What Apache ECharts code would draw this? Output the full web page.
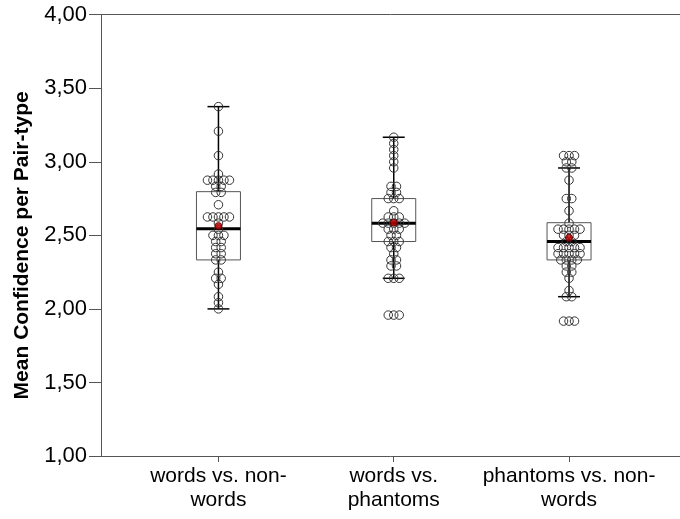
<!DOCTYPE html>
<html>
<head>
<meta charset="utf-8">
<title>Mean Confidence per Pair-type</title>
<script src="https://cdn.jsdelivr.net/npm/echarts@6.0.0/dist/echarts.min.js"></script>
<style>
html, body { margin: 0; padding: 0; background: #fff; }
#chart { width: 680px; height: 519px; }
</style>
</head>
<body>
<div id="chart"></div>
<script>
var categories = ['words vs. non-\nwords', 'words vs.\nphantoms', 'phantoms vs. non-\nwords'];
var yTicks = [1, 1.5, 2, 2.5, 3, 3.5, 4];

// participant means
var wordsNonwords = [3.375, 3.208, 3.042, 2.917, 2.875, 2.875, 2.875, 2.875, 2.875, 2.833, 2.833,
	2.792, 2.792, 2.708, 2.625, 2.625, 2.625, 2.625, 2.625, 2.583, 2.542, 2.5, 2.5, 2.5,
	2.458, 2.458, 2.417, 2.417, 2.375, 2.375, 2.333, 2.333, 2.25, 2.208, 2.208, 2.167,
	2.083, 2.042, 2.0];
var wordsPhantoms = [3.167, 3.125, 3.083, 3.042, 3.0, 2.958, 2.833, 2.833, 2.792, 2.792,
	2.75, 2.75, 2.75, 2.667, 2.625, 2.625, 2.625, 2.583, 2.583, 2.583, 2.583, 2.583,
	2.542, 2.542, 2.542, 2.5, 2.5, 2.458, 2.458, 2.458, 2.417, 2.417, 2.375, 2.333, 2.333,
	2.292, 2.292, 2.208, 2.208, 2.208, 1.958, 1.958, 1.958];
var phantomsNonwords = [3.042, 3.042, 3.042, 3.0, 3.0, 2.958, 2.958, 2.875, 2.75, 2.75, 2.667,
	2.583, 2.542, 2.542, 2.542, 2.542, 2.542, 2.5, 2.5, 2.5, 2.458, 2.458,
	2.417, 2.417, 2.417, 2.417, 2.417, 2.375, 2.375, 2.375, 2.375, 2.375,
	2.333, 2.333, 2.333, 2.333, 2.292, 2.292, 2.25, 2.25, 2.208, 2.125, 2.083, 2.083,
	1.917, 1.917, 1.917];

// [lower whisker, Q1, median, Q3, upper whisker]
var boxStats = [
	[2.000, 2.333, 2.545, 2.797, 3.375],
	[2.208, 2.458, 2.583, 2.750, 3.167],
	[2.083, 2.333, 2.458, 2.586, 2.958]
];
var means = [2.563, 2.586, 2.484];

var groups = [wordsNonwords, wordsPhantoms, phantomsNonwords];

var font = "'Liberation Sans', Arial, sans-serif";
var boxWidth = 0.251;  // in category units
var capWidth = 0.125;
var dotStep = 0.0314;

// stack equal values side by side like a dot plot
function dotData(vals, idx) {
	var counts = {}, order = [];
	vals.forEach(function(v) {
		if (!counts[v]) { counts[v] = 0; order.push(v); }
		counts[v]++;
	});
	var out = [];
	order.forEach(function(v) {
		var n = counts[v];
		for (var i = 0; i < n; i++) {
			out.push([idx + (i - (n - 1) / 2) * dotStep, v]);
		}
	});
	return out;
}

var dots = [];
groups.forEach(function(g, i) { dots = dots.concat(dotData(g, i)); });

var boxData = boxStats.map(function(s, i) { return [i].concat(s); });
var meanData = means.map(function(m, i) { return [i, m]; });

var myChart = echarts.init(document.getElementById('chart'));
var option = {
	animation: false,
	textStyle: { fontFamily: font },
	grid: { left: 101, right: 0, top: 14.7, bottom: 63 },
	xAxis: [{
		type: 'value',
		min: -0.67,
		max: 2.633,
		splitLine: { show: false },
		axisLine: { show: true, onZero: false, lineStyle: { color: '#555', width: 1 } },
		axisTick: { show: true, customValues: [0, 1, 2], length: 6, lineStyle: { color: '#555' } },
		axisLabel: {
			customValues: [0, 1, 2],
			formatter: function(v) { return categories[Math.round(v)]; },
			color: '#000',
			fontSize: 21,
			lineHeight: 24,
			margin: 8
		}
	}, {
		type: 'value',
		position: 'top',
		min: -0.67,
		max: 2.633,
		splitLine: { show: false },
		axisLine: { show: true, onZero: false, lineStyle: { color: '#555', width: 1 } },
		axisTick: { show: false },
		axisLabel: { show: false }
	}],
	yAxis: {
		type: 'value',
		min: 1,
		max: 4,
		interval: 0.5,
		splitLine: { show: false },
		axisLine: { show: true, onZero: false, lineStyle: { color: '#555', width: 1 } },
		axisTick: { show: true, length: 12, lineStyle: { color: '#555' } },
		axisLabel: {
			color: '#000',
			fontSize: 22,
			margin: 14,
			formatter: function(v) { return v.toFixed(2).replace('.', ','); }
		},
		name: 'Mean Confidence per Pair-type',
		nameLocation: 'middle',
		nameGap: 68,
		nameTextStyle: { color: '#000', fontSize: 21, fontWeight: 'bold', padding: [0, 20, 0, 0] }
	},
	series: [{
		type: 'custom',
		xAxisIndex: 0,
		z: 1,
		data: boxData,
		renderItem: function(params, api) {
			var i = api.value(0);
			var lo = api.coord([i, api.value(1)]);
			var q1 = api.coord([i, api.value(2)]);
			var md = api.coord([i, api.value(3)]);
			var q3 = api.coord([i, api.value(4)]);
			var hi = api.coord([i, api.value(5)]);
			var bw = api.size([boxWidth, 0])[0];
			var cw = api.size([capWidth, 0])[0];
			var x = lo[0];
			var whisk = { stroke: '#000', lineWidth: 1.5 };
			return {
				type: 'group',
				children: [
					{ type: 'line', shape: { x1: x, y1: lo[1], x2: x, y2: q1[1] }, style: whisk },
					{ type: 'line', shape: { x1: x, y1: q3[1], x2: x, y2: hi[1] }, style: whisk },
					{ type: 'line', shape: { x1: x - cw / 2, y1: lo[1], x2: x + cw / 2, y2: lo[1] }, style: whisk },
					{ type: 'line', shape: { x1: x - cw / 2, y1: hi[1], x2: x + cw / 2, y2: hi[1] }, style: whisk },
					{ type: 'rect', shape: { x: x - bw / 2, y: q3[1], width: bw, height: q1[1] - q3[1] },
						style: { fill: 'none', stroke: '#555', lineWidth: 1 } },
					{ type: 'line', shape: { x1: x - bw / 2, y1: md[1], x2: x + bw / 2, y2: md[1] },
						style: { stroke: '#000', lineWidth: 3 } }
				]
			};
		}
	}, {
		type: 'scatter',
		z: 2,
		symbol: 'circle',
		symbolSize: 8.5,
		data: dots,
		itemStyle: { color: 'rgba(255,255,255,0)', borderColor: '#333', borderWidth: 1, opacity: 1 }
	}, {
		type: 'scatter',
		z: 3,
		symbol: 'circle',
		symbolSize: 7,
		data: meanData,
		itemStyle: { color: '#c00000', borderColor: '#500', borderWidth: 1 }
	}]
};
myChart.setOption(option);
</script>
</body>
</html>
